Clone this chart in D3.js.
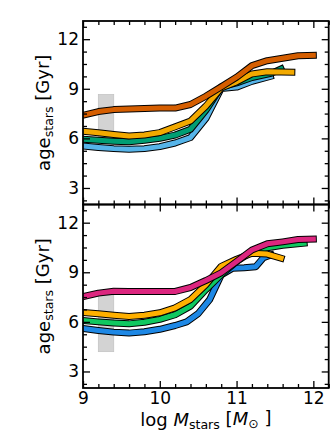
<!DOCTYPE html>
<html>
<head>
<meta charset="utf-8">
<script src="https://cdn.jsdelivr.net/npm/d3@7"></script>
<style>
  body { margin: 0; background: #fff; }
  text { font-family: "DejaVu Sans", sans-serif; fill: #000; }
</style>
</head>
<body>
<div id="chartDiv"></div>
<script>
// DATA (log M_stars vs stellar age in Gyr)
var massGrid = [9.0, 9.2, 9.4, 9.6, 9.8, 10.0, 10.2, 10.4, 10.6, 10.8, 11.0, 11.2, 11.4, 11.6, 11.8, 12.0];

// top panel
var topRedMass = massGrid;
var topRedAge = [7.40, 7.62, 7.74, 7.78, 7.81, 7.83, 7.83, 8.05, 8.55, 9.12, 9.70, 10.40, 10.70, 10.85, 11.00, 11.02];
var topYellowMass = [9.0, 9.2, 9.4, 9.6, 9.8, 10.0, 10.2, 10.4, 10.6, 10.8, 11.0, 11.2, 11.4, 11.72];
var topYellowAge = [6.43, 6.34, 6.24, 6.14, 6.20, 6.35, 6.70, 7.05, 7.95, 9.05, 9.42, 9.90, 10.03, 10.00];
var topGreenMass = [9.0, 9.2, 9.4, 9.6, 9.8, 10.0, 10.2, 10.4, 10.6, 10.8, 11.0, 11.2, 11.45, 11.58];
var topGreenAge = [5.94, 5.88, 5.83, 5.80, 5.88, 6.00, 6.20, 6.55, 7.70, 9.12, 9.36, 9.68, 9.93, 10.20];
var topBlueMass = [9.0, 9.2, 9.4, 9.6, 9.8, 10.0, 10.2, 10.4, 10.6, 10.8, 11.0, 11.2, 11.44];
var topBlueAge = [5.54, 5.45, 5.38, 5.34, 5.38, 5.50, 5.72, 6.05, 7.20, 9.02, 9.10, 9.45, 9.75];

// bottom panel
var botPinkMass = massGrid;
var botPinkAge = [7.53, 7.74, 7.85, 7.84, 7.83, 7.83, 7.84, 8.08, 8.50, 8.97, 9.65, 10.35, 10.72, 10.84, 10.98, 11.01];
var botYellowMass = [9.0, 9.2, 9.4, 9.6, 9.8, 10.0, 10.2, 10.4, 10.6, 10.8, 11.0, 11.2, 11.4, 11.58];
var botYellowAge = [6.57, 6.49, 6.40, 6.32, 6.40, 6.55, 6.85, 7.35, 8.25, 9.36, 9.79, 10.15, 10.10, 9.85];
var botGreenMass = [9.0, 9.2, 9.4, 9.6, 9.8, 10.0, 10.2, 10.4, 10.6, 10.8, 11.0, 11.2, 11.4, 11.6, 11.88];
var botGreenAge = [6.08, 6.00, 5.93, 5.88, 5.98, 6.15, 6.43, 6.95, 7.95, 8.86, 9.65, 10.25, 10.48, 10.63, 10.76];
var botBlueMass = [9.0, 9.2, 9.4, 9.6, 9.8, 10.0, 10.2, 10.35, 10.5, 10.65, 10.8, 10.95, 11.1, 11.25, 11.35, 11.45];
var botBlueAge = [5.60, 5.48, 5.38, 5.32, 5.40, 5.55, 5.78, 6.00, 6.50, 7.35, 8.84, 9.25, 9.28, 9.34, 9.88, 10.05];

// gray bands [xmin, xmax, ymin, ymax]
var topBand = [9.2, 9.4, 6.0, 8.65];
var botBand = [9.2, 9.4, 4.2, 7.6];

var xMajor = [9, 10, 11, 12];
var yMajor = [3, 6, 9, 12];

var w = 332, h = 432;
var left = 83, right = 328.7, top1 = 21, mid = 204.5, bot2 = 388.5;
var panelH = mid - top1, panelW = right - left;

var svg = d3.select('#chartDiv').append('svg')
  .attr('width', w)
  .attr('height', h);

var xScale = d3.scaleLinear().domain([9, 12.2]).range([0, panelW]);

// minor tick positions
var xMinor = d3.range(9, 12.21, 0.2).filter(function(d) {
  return Math.abs(d - Math.round(d)) > 0.01;
});
var yMinor = d3.range(2.25, 13.1, 0.75).filter(function(d) {
  return Math.abs(d / 3 - Math.round(d / 3)) > 0.01;
});

function drawPanel(y0, series, band, withXLabels, idx) {
  var g = svg.append('g').attr('transform', 'translate(' + left + ',' + y0 + ')');
  var yScale = d3.scaleLinear().domain([2, 13.1]).range([panelH, 0]);

  g.append('clipPath').attr('id', 'clip' + idx)
    .append('rect').attr('width', panelW).attr('height', panelH);

  var plot = g.append('g').attr('clip-path', 'url(#clip' + idx + ')');

  plot.append('rect')
    .attr('x', xScale(band[0]))
    .attr('width', xScale(band[1]) - xScale(band[0]))
    .attr('y', yScale(band[3]))
    .attr('height', yScale(band[2]) - yScale(band[3]))
    .attr('fill', '#d3d3d3')
    .attr('stroke', '#c4c4c4')
    .attr('stroke-width', 0.8);

  var line = d3.line()
    .x(function(d) { return xScale(d[0]); })
    .y(function(d) { return yScale(d[1]); })
    .curve(d3.curveLinear);

  series.forEach(function(s) {
    var pts = s.mass.map(function(m, i) { return [m, s.age[i]]; });
    plot.append('path').datum(pts)
      .attr('d', line)
      .attr('fill', 'none')
      .attr('stroke', '#000')
      .attr('stroke-width', 7)
      .attr('stroke-linecap', 'square')
      .attr('stroke-linejoin', 'round');
    plot.append('path').datum(pts)
      .attr('d', line)
      .attr('fill', 'none')
      .attr('stroke', s.color)
      .attr('stroke-width', 5)
      .attr('stroke-linecap', 'square')
      .attr('stroke-linejoin', 'round');
  });

  // axes, ticks pointing inward on all sides
  function addAxis(axis, tx, ty, size, values, labels) {
    var a = g.append('g')
      .attr('transform', 'translate(' + tx + ',' + ty + ')')
      .call(axis.tickValues(values).tickSizeInner(-size).tickSizeOuter(0)
        .tickPadding(labels ? 4 : 0)
        .tickFormat(labels ? d3.format('d') : ''));
    a.select('.domain').remove();
    a.selectAll('line').attr('stroke', '#000').attr('stroke-width', 1.3);
    a.selectAll('text').style('font-size', '17px')
      .style('font-family', '"DejaVu Sans", sans-serif');
    return a;
  }

  addAxis(d3.axisLeft(yScale), 0, 0, 7, yMajor, true);
  addAxis(d3.axisLeft(yScale), 0, 0, 4, yMinor, false);
  addAxis(d3.axisRight(yScale), panelW, 0, 7, yMajor, false);
  addAxis(d3.axisRight(yScale), panelW, 0, 4, yMinor, false);
  addAxis(d3.axisTop(xScale), 0, 0, 7, xMajor, false);
  addAxis(d3.axisTop(xScale), 0, 0, 4, xMinor, false);
  var xa = addAxis(d3.axisBottom(xScale), 0, panelH, 7, xMajor, withXLabels);
  if (withXLabels) xa.selectAll('text').attr('y', 3.5);
  addAxis(d3.axisBottom(xScale), 0, panelH, 4, xMinor, false);

  g.append('rect')
    .attr('width', panelW).attr('height', panelH)
    .attr('fill', 'none').attr('stroke', '#000').attr('stroke-width', 1.8);

  // y label: age_stars [Gyr]
  var yl = svg.append('text')
    .attr('transform', 'translate(50,' + (y0 + panelH / 2) + ') rotate(-90)')
    .attr('text-anchor', 'middle')
    .style('font-size', '18px');
  yl.append('tspan').text('age');
  yl.append('tspan').attr('dy', '0.22em').style('font-size', '12.6px').text('stars');
  yl.append('tspan').attr('dy', '-0.22em').text('\u00a0[Gyr]');
}

drawPanel(top1, [
  { mass: topBlueMass, age: topBlueAge, color: '#56B4E9' },
  { mass: topGreenMass, age: topGreenAge, color: '#009E73' },
  { mass: topYellowMass, age: topYellowAge, color: '#F2A900' },
  { mass: topRedMass, age: topRedAge, color: '#D55E00' }
], topBand, false, 1);

drawPanel(mid, [
  { mass: botBlueMass, age: botBlueAge, color: '#1E88E5' },
  { mass: botGreenMass, age: botGreenAge, color: '#10C860' },
  { mass: botYellowMass, age: botYellowAge, color: '#FFB000' },
  { mass: botPinkMass, age: botPinkAge, color: '#DC267F' }
], botBand, true, 2);

// x label: log M_stars [M_sun]
var xl = svg.append('text')
  .attr('x', left + panelW / 2)
  .attr('y', 426)
  .attr('text-anchor', 'middle')
  .style('font-size', '18px');
xl.append('tspan').text('log\u00a0');
xl.append('tspan').style('font-style', 'italic').text('M');
xl.append('tspan').attr('dy', '0.22em').style('font-size', '12.6px').text('stars');
xl.append('tspan').attr('dy', '-0.22em').text('\u00a0[');
xl.append('tspan').style('font-style', 'italic').text('M');
xl.append('tspan').attr('dy', '0.22em').style('font-size', '12.6px').text('\u2299');
xl.append('tspan').attr('dy', '-0.22em').text('\u00a0]');
</script>
</body>
</html>
